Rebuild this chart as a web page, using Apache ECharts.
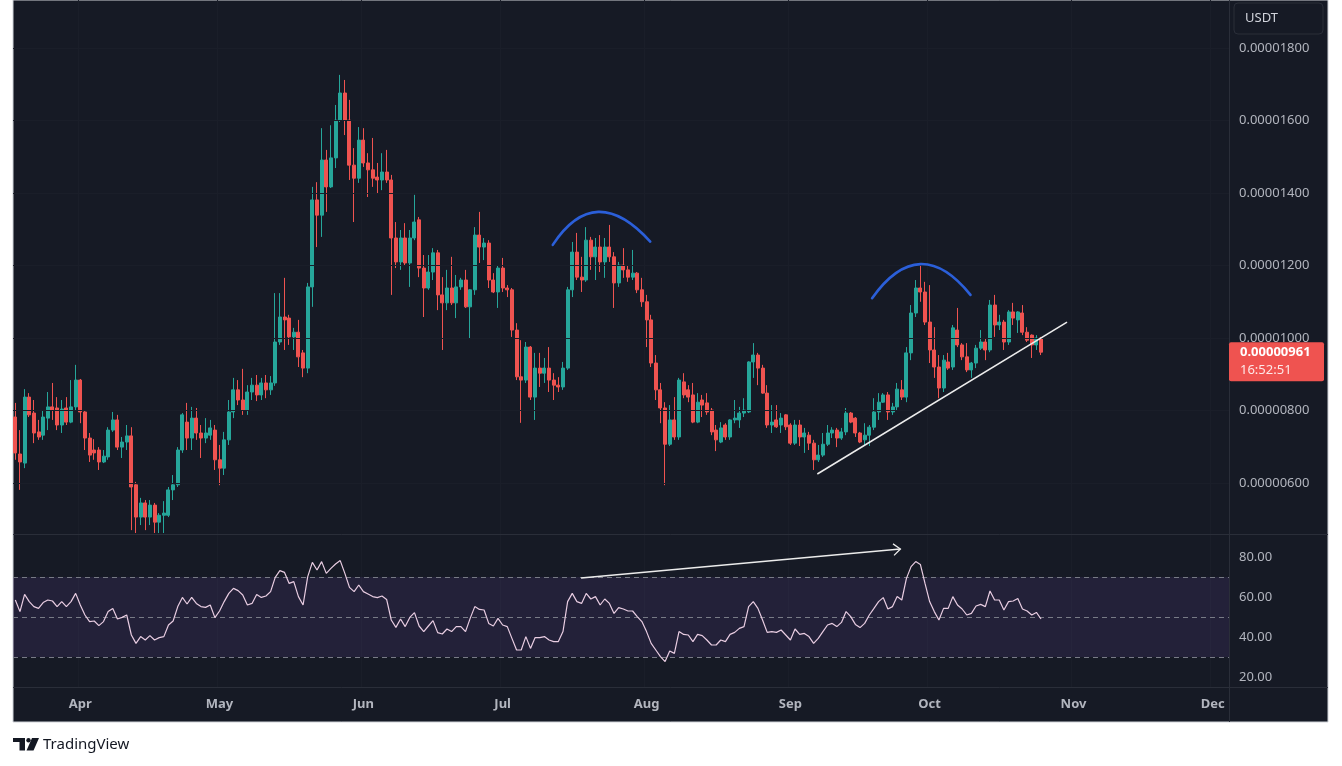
<!DOCTYPE html>
<html><head><meta charset="utf-8">
<script src="https://cdn.jsdelivr.net/npm/echarts@6/dist/echarts.min.js"></script>
<style>html,body{margin:0;padding:0;background:#fff;}#c{width:1342px;height:766px;}</style>
</head><body><div id="c"></div>
<script>
// ---- data (prices in units of 1e-8 USDT) ----
const PRICE_UNIT = 1e-8;
const START_DATE = '2023-03-18';
const DAY_COUNT = 262;           // Mar 18 .. Dec 5 (time axis span)
const MONTH_NAMES = ['Jan','Feb','Mar','Apr','May','Jun','Jul','Aug','Sep','Oct','Nov','Dec'];
const PRICE_TICKS = [600, 800, 1000, 1200, 1400, 1600, 1800];
const RSI_TICKS = [20, 40, 60, 80];
const RSI_LEVELS = [70, 50, 30];
const LAST_PRICE = 961;
const COUNTDOWN = '16:52:51';
// [open, close, low, high]
const ohlc = [
[782,683,664,821],[680,658,581,746],[655,837,641,859],[837,788,782,848],[793,738,710,829],
[741,727,719,774],[732,782,719,801],[779,810,746,851],[810,801,774,876],[807,760,746,837],
[760,804,738,829],[807,768,760,837],[768,810,765,884],[810,884,801,926],[884,796,765,887],
[796,724,691,800],[724,677,658,738],[691,683,664,721],[691,658,636,699],[658,674,655,691],
[672,746,664,754],[746,774,741,796],[774,699,691,788],[699,713,669,727],[713,730,691,760],
[730,589,470,754],[595,506,462,603],[506,545,484,559],[545,506,470,553],[506,539,484,553],
[539,492,462,545],[492,511,462,517],[511,517,462,550],[511,581,506,589],[581,595,553,622],
[595,691,589,699],[691,788,683,793],[768,724,691,821],[724,779,691,810],[779,738,719,807],
[738,724,669,760],[724,738,710,779],[732,752,719,774],[746,664,636,760],[664,641,594,705],
[641,719,622,741],[719,796,705,829],[796,857,779,890],[857,829,815,884],[829,801,788,915],
[801,851,788,870],[851,870,829,890],[870,843,826,898],[843,876,829,890],[876,857,834,898],
[857,876,843,895],[876,989,868,1124],[989,1058,981,1124],[1058,1050,967,1166],[1055,1003,981,1064],
[1003,1016,967,1028],[1016,948,920,1050],[959,917,892,967],[917,1141,903,1152],[1141,1381,1086,1417],
[1381,1339,1251,1430],[1339,1491,1279,1579],[1491,1417,1348,1519],[1417,1497,1414,1587],[1497,1601,1469,1643],
[1601,1676,1596,1726],[1676,1601,1560,1712],[1601,1477,1436,1657],[1477,1441,1320,1524],[1441,1546,1428,1582],
[1546,1483,1472,1579],[1483,1464,1389,1510],[1464,1441,1417,1552],[1444,1436,1400,1483],[1436,1458,1408,1510],
[1458,1436,1428,1519],[1436,1276,1119,1450],[1276,1210,1193,1320],[1210,1276,1188,1298],[1276,1207,1201,1317],
[1207,1276,1141,1298],[1276,1320,1270,1395],[1326,1193,1168,1334],[1193,1138,1058,1229],[1138,1182,1133,1229],
[1182,1235,1160,1248],[1235,1119,1077,1243],[1119,1097,967,1168],[1097,1138,1077,1188],[1138,1097,1091,1224],
[1097,1141,1055,1174],[1141,1160,1133,1166],[1160,1086,1083,1188],[1086,1133,1000,1135],[1133,1284,1119,1306],
[1284,1251,1207,1348],[1251,1262,1215,1276],[1262,1160,1138,1270],[1160,1127,1124,1179],[1127,1193,1083,1201],
[1193,1138,1127,1221],[1138,1133,1113,1146],[1133,1022,1003,1138],[1022,893,884,1041],[893,884,766,994],
[884,975,876,989],[975,837,829,978],[837,917,774,959],[917,903,865,959],[903,917,876,945],
[917,884,851,975],[884,870,829,903],[870,865,851,892],[865,917,857,934],[917,1133,912,1141],
[1133,1237,1113,1265],[1237,1168,1160,1290],[1168,1160,1127,1224],[1160,1270,1155,1306],[1270,1224,1188,1279],
[1224,1251,1160,1276],[1251,1210,1182,1284],[1210,1251,1166,1276],[1251,1224,1210,1312],[1224,1152,1083,1237],
[1152,1201,1141,1210],[1201,1188,1166,1248],[1188,1168,1155,1201],[1168,1179,1160,1243],[1179,1133,1124,1182],
[1133,1100,1086,1166],[1100,1050,975,1119],[1050,931,920,1064],[931,857,829,953],[857,807,765,876],
[807,707,594,823],[707,774,702,815],[774,727,719,837],[727,884,719,890],[879,843,834,903],
[857,837,823,870],[843,768,765,876],[768,823,765,848],[829,815,782,843],[821,796,788,848],
[801,741,732,807],[746,719,688,760],[713,752,710,768],[760,727,719,765],[727,774,719,776],
[774,779,765,829],[774,793,752,810],[793,801,782,834],[796,934,793,936],[934,953,890,986],
[953,917,870,959],[917,848,846,926],[848,760,752,870],[760,768,738,815],[774,755,752,815],
[760,779,738,793],[788,755,746,790],[760,710,705,765],[710,760,705,774],[760,727,702,774],
[727,738,683,752],[732,710,691,741],[710,664,636,719],[664,677,658,705],[677,707,672,738],
[707,738,702,760],[738,746,724,754],[746,724,699,752],[724,741,719,752],[741,793,732,807],
[793,768,765,796],[779,738,727,782],[738,713,710,741],[719,732,705,765],[732,754,702,760],
[754,796,746,834],[796,823,774,848],[823,843,821,848],[843,796,774,851],[796,810,788,821],
[810,859,801,876],[857,837,829,884],[837,959,823,975],[959,1069,939,1091],[1069,1138,1058,1160],
[1138,1127,1100,1201],[1127,1044,1036,1155],[1044,967,931,1146],[967,920,890,1030],[920,862,834,953],
[862,939,851,953],[934,917,912,959],[920,1028,912,1036],[1022,981,975,1083],[981,948,939,986],
[948,912,906,986],[912,931,890,934],[931,972,917,981],[972,989,967,1022],[989,967,939,1000],
[967,1091,961,1105],[1091,1036,1003,1119],[1036,1044,1022,1064],[1044,989,967,1050],[989,1072,981,1077],
[1072,1055,1036,1097],[1050,1072,1014,1074],[1069,1016,1008,1091],[1016,994,989,1030],[1008,981,945,1010],
[981,1000,967,1008],[1000,961,953,1003]
];
const rsi = [
58.5,52.7,61.3,57.7,55.2,54.3,57.2,58.5,58.0,55.2,
57.7,55.2,57.7,61.8,56.0,51.0,47.7,48.0,45.7,47.7,
52.7,54.3,49.0,49.8,51.0,41.0,36.8,40.2,38.5,40.7,
38.5,39.7,40.2,46.0,48.0,55.2,59.8,56.5,59.8,56.8,
55.2,54.8,56.0,49.7,53.0,57.7,61.8,64.3,63.2,61.0,
56.0,56.8,61.3,59.8,60.5,62.7,69.8,73.2,72.3,66.8,
67.7,60.2,56.0,70.2,77.3,73.5,77.7,71.8,74.3,76.5,
78.2,71.8,64.8,62.7,66.0,62.7,61.5,60.2,59.7,60.5,
58.8,48.5,44.8,49.0,45.2,49.8,52.2,45.5,42.7,45.5,
48.2,42.2,41.5,44.0,42.7,45.2,45.2,42.7,49.3,55.2,
53.8,53.5,46.8,45.5,49.3,46.0,45.2,39.3,33.5,33.5,
40.2,34.3,39.7,39.7,40.2,38.5,37.7,37.7,42.7,57.7,
61.8,57.7,56.8,61.8,59.0,60.2,56.0,59.0,56.8,51.8,
54.7,54.0,53.0,53.0,50.2,47.7,42.7,36.8,33.5,30.2,
27.7,33.0,31.8,42.7,41.3,41.0,37.7,41.3,40.7,38.5,
36.0,36.0,38.5,37.7,41.3,42.3,44.3,45.2,55.2,57.7,
54.3,48.5,42.3,42.7,42.3,43.5,41.0,38.5,44.0,41.3,
41.8,40.2,36.8,39.3,42.7,46.0,46.8,45.2,47.3,52.7,
50.2,46.3,44.7,46.8,51.0,54.3,57.7,59.7,54.0,55.2,
60.2,58.5,69.3,75.2,77.7,76.3,66.8,57.7,52.7,48.5,
54.3,54.3,60.2,56.0,54.0,51.0,51.8,55.5,56.3,55.2,
63.0,58.5,58.5,53.5,57.7,58.0,59.3,54.0,53.0,51.0,
52.3,49.0
];
// drawings, anchored in (day index, value)
const arcTops = [
  {start:[115.8,1257], top:[125.6,1348], end:[136.8,1266]},
  {start:[184.6,1110], top:[195.0,1204], end:[205.8,1119]}
];
const trendLine = [[172.8,625],[226.6,1044]];
const rsiArrow = [[121.9,69.5],[190.7,84]];

// ---- categories (days) ----
const dates = [];
{
  const d0 = new Date(START_DATE + 'T00:00:00Z');
  for (let i = 0; i < DAY_COUNT; i++) {
    const d = new Date(d0.getTime() + i * 86400000);
    dates.push(d.toISOString().slice(0,10));
  }
}
const isMonthStart = (idx) => dates[idx] && dates[idx].slice(8) === '01';

const FONT = 'Noto Sans';
const AXIS_TXT = '#b2b5be';
const GRID_LINE = '#1a1e29';
const UP = '#26a69a', DOWN = '#ef5350';

const option = {
  backgroundColor: '#ffffff',
  animation: false,
  grid: [
    {left: 13, right: 113, top: 0, height: 534},
    {left: 13, right: 113, top: 535, height: 152}
  ],
  xAxis: [
    {type:'category', gridIndex:0, data: dates, boundaryGap:true,
     axisLine:{show:false}, axisTick:{show:false}, axisLabel:{show:false},
     splitLine:{show:true, interval:(i)=>isMonthStart(i), lineStyle:{color:GRID_LINE}}},
    {type:'category', gridIndex:1, data: dates, boundaryGap:true,
     axisLine:{show:false}, axisTick:{show:false},
     axisLabel:{show:true, interval:(i)=>isMonthStart(i), margin:11,
       formatter:(v)=>MONTH_NAMES[+v.slice(5,7)-1], color:AXIS_TXT, fontSize:13, fontWeight:'bold', fontFamily:FONT},
     splitLine:{show:true, interval:(i)=>isMonthStart(i), lineStyle:{color:GRID_LINE}}}
  ],
  yAxis: [
    {type:'value', gridIndex:0, position:'right', min:459.3, max:1932.6, scale:true,
     axisLine:{show:false}, axisTick:{show:false, customValues:PRICE_TICKS}, splitLine:{show:false},
     axisLabel:{customValues:PRICE_TICKS, margin:10, color:AXIS_TXT, fontSize:13, fontFamily:FONT,
       formatter:(v)=>(v*PRICE_UNIT).toFixed(8)}},
    {type:'value', gridIndex:1, position:'right', min:15, max:91,
     axisLine:{show:false}, axisTick:{show:false, customValues:RSI_TICKS}, splitLine:{show:false},
     axisLabel:{customValues:RSI_TICKS, margin:10, color:AXIS_TXT, fontSize:13, fontFamily:FONT,
       formatter:(v)=>v.toFixed(2)}}
  ],
  series: [
    {type:'candlestick', xAxisIndex:0, yAxisIndex:0, data: ohlc, barWidth:3.5,
     itemStyle:{color:UP, color0:DOWN, borderColor:UP, borderColor0:DOWN, borderWidth:1},
     markLine:{silent:true, symbol:'none', label:{show:false}, animation:false,
       lineStyle:{color:GRID_LINE, width:1, type:'solid'},
       data: PRICE_TICKS.map(v=>({yAxis:v}))}},
    {type:'line', xAxisIndex:1, yAxisIndex:1, data: rsi, symbol:'none',
     lineStyle:{color:'#e9cde2', width:1.2}, z:5,
     markArea:{silent:true, itemStyle:{color:'rgba(126,87,194,0.13)'}, data:[[{yAxis:30},{yAxis:70}]]},
     markLine:{silent:true, symbol:'none', label:{show:false}, animation:false,
       lineStyle:{color:'#787b86', width:1, type:[5,4]},
       data: RSI_LEVELS.map(v=>({yAxis:v}))}}
  ]
};

const chart = echarts.init(document.getElementById('c'));
chart.setOption(option);

const x0 = chart.convertToPixel({xAxisIndex:0}, dates[0]);
const x1 = chart.convertToPixel({xAxisIndex:0}, dates[1]);
const px = (i) => x0 + (x1 - x0) * i;
const py = (v) => chart.convertToPixel({yAxisIndex:0}, v);
const ry = (v) => chart.convertToPixel({yAxisIndex:1}, v);

const g = [];
g.push({type:'rect', z:-10, silent:true, shape:{x:13, y:0, width:1315, height:722},
  style:{fill:'#161a25', stroke:'#cfd2d8', lineWidth:1}});
// separators
g.push({type:'line', z:1, silent:true, shape:{x1:1229.5,y1:0,x2:1229.5,y2:722}, style:{stroke:'#2a2e39', lineWidth:1}});
g.push({type:'line', z:1, silent:true, shape:{x1:13,y1:534.5,x2:1328,y2:534.5}, style:{stroke:'#2a2e39', lineWidth:1}});
g.push({type:'line', z:1, silent:true, shape:{x1:13,y1:687.5,x2:1328,y2:687.5}, style:{stroke:'#2a2e39', lineWidth:1}});
// USDT box
g.push({type:'rect', z:20, shape:{x:1234, y:3, width:89, height:31, r:4}, style:{fill:'#161a25', stroke:'#2a2e39', lineWidth:1}});
g.push({type:'text', z:21, style:{text:'USDT', x:1245, y:18.5, fill:'#d1d4dc', fontSize:13, fontFamily:FONT, verticalAlign:'middle'}});
// price tag
const tagY = py(LAST_PRICE) - 10;
g.push({type:'rect', z:20, shape:{x:1229, y:tagY, width:95, height:39, r:2}, style:{fill:'#ef5350'}});
g.push({type:'text', z:21, style:{text:(LAST_PRICE*PRICE_UNIT).toFixed(8), x:1240, y:tagY+10, fill:'#ffffff', fontSize:13, fontWeight:'bold', fontFamily:FONT, verticalAlign:'middle'}});
g.push({type:'text', z:21, style:{text:COUNTDOWN, x:1240, y:tagY+28, fill:'#fde8e8', fontSize:13, fontFamily:FONT, verticalAlign:'middle'}});
// arcs
arcTops.forEach(a => {
  const P0 = [px(a.start[0]), py(a.start[1])];
  const M = [px(a.top[0]), py(a.top[1])];
  const P2 = [px(a.end[0]), py(a.end[1])];
  const C = [2*M[0] - (P0[0]+P2[0])/2, 2*M[1] - (P0[1]+P2[1])/2];
  g.push({type:'bezierCurve', z:30, silent:true,
    shape:{x1:P0[0], y1:P0[1], x2:P2[0], y2:P2[1], cpx1:C[0], cpy1:C[1]},
    style:{stroke:'#2b5fd9', lineWidth:2.6, fill:null, lineCap:'round'}});
});
// trend line
g.push({type:'line', z:30, silent:true,
  shape:{x1:px(trendLine[0][0]), y1:py(trendLine[0][1]), x2:px(trendLine[1][0]), y2:py(trendLine[1][1])},
  style:{stroke:'#ececec', lineWidth:1.6}});
// RSI arrow
{
  const S = [px(rsiArrow[0][0]), ry(rsiArrow[0][1])];
  const T = [px(rsiArrow[1][0]), ry(rsiArrow[1][1])];
  g.push({type:'line', z:30, silent:true, shape:{x1:S[0], y1:S[1], x2:T[0], y2:T[1]}, style:{stroke:'#ececec', lineWidth:1.3}});
  const dx = T[0]-S[0], dy = T[1]-S[1], L = Math.hypot(dx,dy);
  const ux = -dx/L, uy = -dy/L, a = 40*Math.PI/180, len = 9;
  const w1 = [T[0] + len*(ux*Math.cos(a) - uy*Math.sin(a)), T[1] + len*(ux*Math.sin(a) + uy*Math.cos(a))];
  const w2 = [T[0] + len*(ux*Math.cos(-a) - uy*Math.sin(-a)), T[1] + len*(ux*Math.sin(-a) + uy*Math.cos(-a))];
  g.push({type:'polyline', z:30, silent:true, shape:{points:[w1, T, w2]}, style:{stroke:'#ececec', lineWidth:1.3, fill:null}});
}
// TradingView logo
g.push({type:'rect', z:5, shape:{x:13, y:738, width:12, height:4}, style:{fill:'#131722'}});
g.push({type:'rect', z:5, shape:{x:19.5, y:738, width:5.5, height:12.5}, style:{fill:'#131722'}});
g.push({type:'circle', z:5, shape:{cx:28.5, cy:740.2, r:2.2}, style:{fill:'#131722'}});
g.push({type:'polygon', z:5, shape:{points:[[32,738],[39,738],[33.5,750.5],[26.5,750.5]]}, style:{fill:'#131722'}});
g.push({type:'text', z:5, style:{text:'TradingView', x:43, y:745, fill:'#131722', fontSize:15, fontFamily:FONT, verticalAlign:'middle'}});

chart.setOption({graphic: g});
</script></body></html>
